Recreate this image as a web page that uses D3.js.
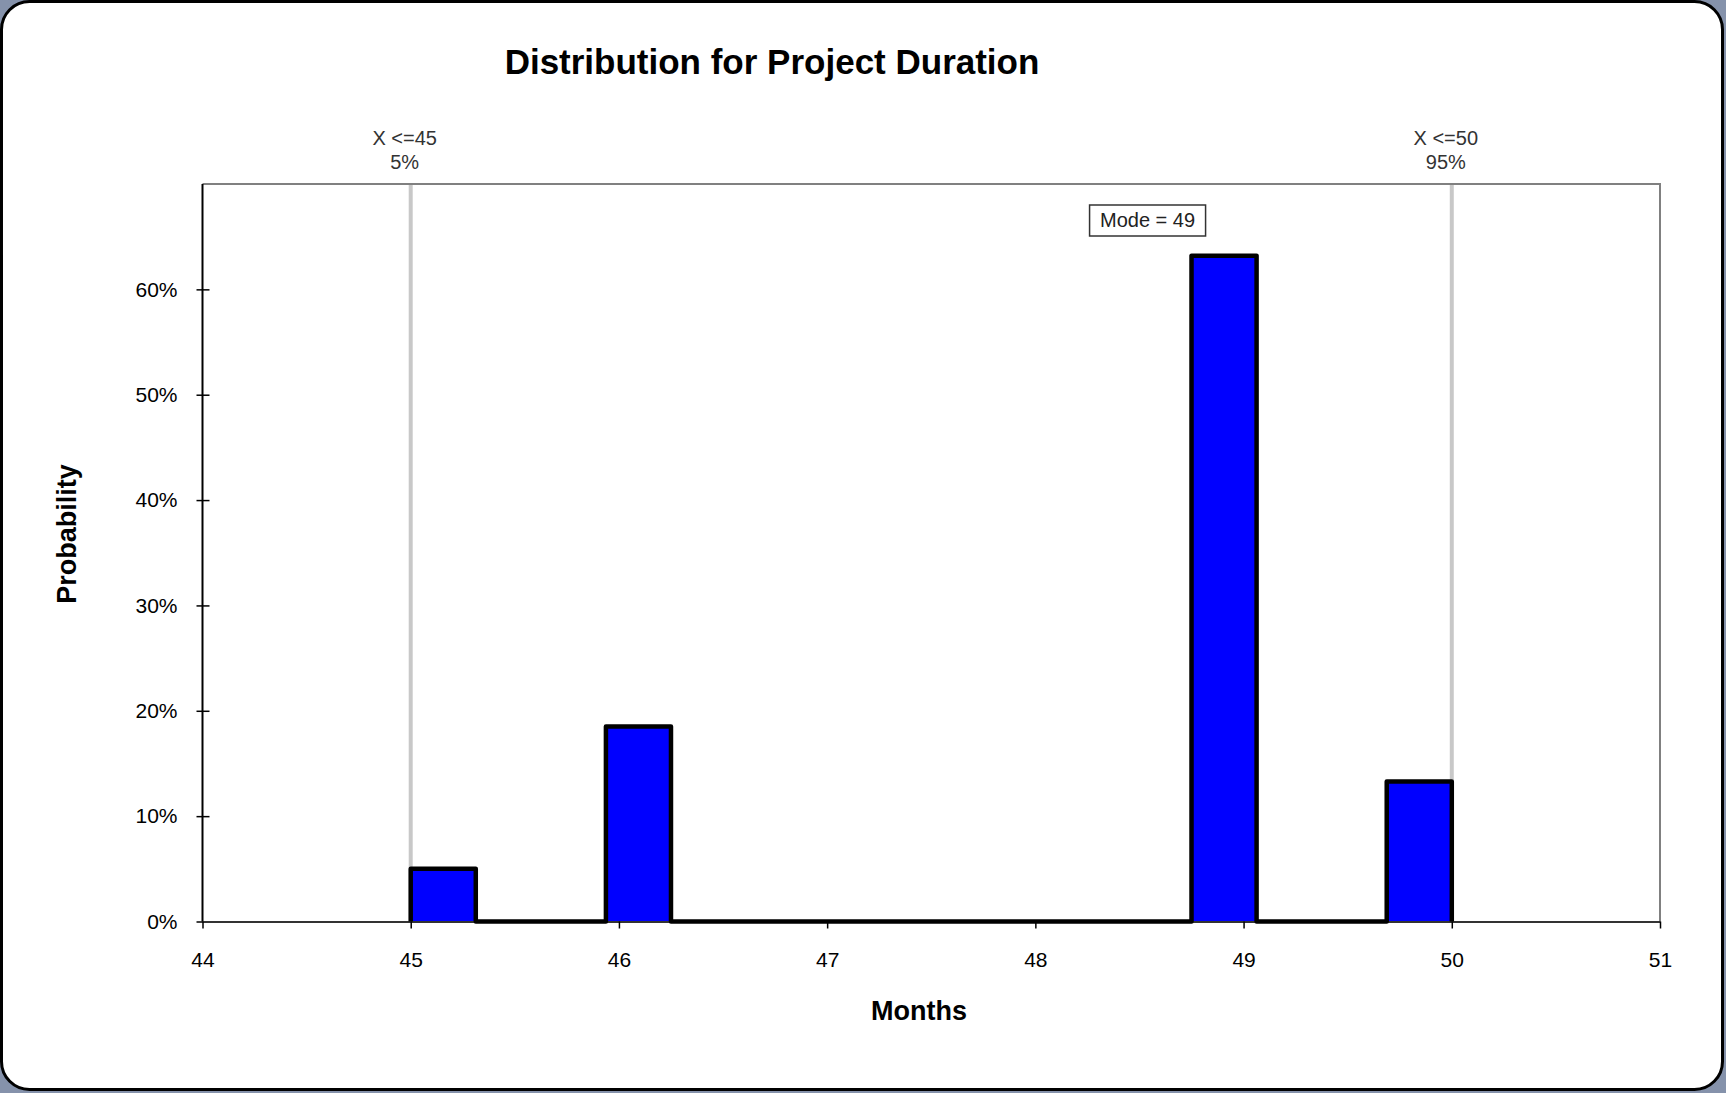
<!DOCTYPE html>
<html>
<head>
  <meta charset="utf-8">
  <title>Distribution for Project Duration</title>
  <script src="https://cdnjs.cloudflare.com/ajax/libs/d3/7.8.5/d3.min.js"></script>
  <style>
    html, body { margin: 0; padding: 0; background: #8592ab; }
    svg { display: block; font-family: "Liberation Sans", Arial, sans-serif; }
  </style>
</head>
<body>
<div id="ChartArea"></div>
<script>
// histogram bins (months) and probability per bin
const binEdges = [45, 45.3125, 45.625, 45.9375, 46.25, 46.5625, 46.875, 47.1875, 47.5,
                  47.8125, 48.125, 48.4375, 48.75, 49.0625, 49.375, 49.6875, 50];
const binProb = [0.05, 0, 0, 0.185, 0, 0, 0, 0, 0, 0, 0, 0, 0.632, 0, 0, 0.133];

// axis ticks
const xTicks = [44, 45, 46, 47, 48, 49, 50, 51];
const yTicks = [0, 0.1, 0.2, 0.3, 0.4, 0.5, 0.6];

// percentile markers and mode
const markerX = [45, 50];
const markerLabel = ["X <=45", "X <=50"];
const markerPct = ["5%", "95%"];
const modeValue = 49;

const W = 1726, H = 1093;
const margin = {top: 184, right: 66, bottom: 171.5, left: 202.5};
const width = W - margin.left - margin.right;
const height = H - margin.top - margin.bottom;

const svg = d3.select("#ChartArea").append("svg")
    .attr("width", W)
    .attr("height", H);

// outer frame
svg.append("rect")
    .attr("x", 1.5).attr("y", 1.5)
    .attr("width", W - 5).attr("height", H - 5)
    .attr("rx", 28).attr("ry", 28)
    .attr("fill", "#fff")
    .attr("stroke", "#000")
    .attr("stroke-width", 3);

// title
svg.append("text")
    .attr("x", 772).attr("y", 74)
    .attr("text-anchor", "middle")
    .attr("font-size", 35).attr("font-weight", "bold")
    .text("Distribution for Project Duration");

const g = svg.append("g")
    .attr("transform", "translate(" + margin.left + "," + margin.top + ")");

const x = d3.scaleLinear().domain([44, 51]).range([0, width]);
const y = d3.scaleLinear().domain([0, 0.7]).range([height, 0]);

// top and right border of the plot
g.append("path")
    .attr("d", "M0,0H" + width + "V" + height)
    .attr("fill", "none")
    .attr("stroke", "#808080")
    .attr("stroke-width", 2);

// percentile marker lines
g.selectAll(".marker")
  .data(markerX)
  .enter().append("line")
    .attr("class", "marker")
    .attr("x1", d => x(d)).attr("x2", d => x(d))
    .attr("y1", 1).attr("y2", height)
    .attr("stroke", "#c8c8c8")
    .attr("stroke-width", 4);

markerX.forEach(function(d, i) {
  const t = g.append("text")
      .attr("text-anchor", "middle")
      .attr("font-size", 20)
      .attr("fill", "#333");
  t.append("tspan").attr("x", x(d) - 6).attr("y", -39).text(markerLabel[i]);
  t.append("tspan").attr("x", x(d) - 6).attr("y", -15).text(markerPct[i]);
});

// bars
const bins = binProb.map((p, i) => ({lo: binEdges[i], hi: binEdges[i + 1], p: p}));

g.selectAll(".bar")
  .data(bins.filter(d => d.p > 0))
  .enter().append("rect")
    .attr("class", "bar")
    .attr("x", d => x(d.lo))
    .attr("y", d => y(d.p))
    .attr("width", d => x(d.hi) - x(d.lo))
    .attr("height", d => y(0) - y(d.p))
    .attr("fill", "#0000ff");

// y axis
const yAxis = g.append("g")
    .call(d3.axisLeft(y).tickValues(yTicks).tickFormat(d3.format(".0%"))
      .tickSize(6).tickPadding(19));
yAxis.select(".domain").remove();
yAxis.selectAll(".tick line").attr("x1", 7).attr("stroke", "#000").attr("stroke-width", 1.5);
yAxis.selectAll("text").attr("font-size", 21).attr("fill", "#000")
    .attr("font-family", "Liberation Sans, Arial, sans-serif");
g.append("line")
    .attr("x1", 0).attr("x2", 0).attr("y1", 0).attr("y2", height)
    .attr("stroke", "#000").attr("stroke-width", 2);

// x axis
const xAxis = g.append("g")
    .attr("transform", "translate(0," + height + ")")
    .call(d3.axisBottom(x).tickValues(xTicks).tickFormat(d3.format("d"))
      .tickSize(7).tickPadding(24).tickSizeOuter(0));
xAxis.select(".domain").attr("stroke", "#333").attr("stroke-width", 2);
xAxis.selectAll(".tick line").attr("stroke", "#000").attr("stroke-width", 1.5);
xAxis.selectAll("text").attr("font-size", 21).attr("fill", "#000")
    .attr("font-family", "Liberation Sans, Arial, sans-serif");

// histogram outline
const pts = [[binEdges[0], 0]];
bins.forEach(function(d) {
  pts.push([d.lo, d.p]);
  pts.push([d.hi, d.p]);
});
pts.push([binEdges[binEdges.length - 1], 0]);

g.append("path")
    .datum(pts)
    .attr("fill", "none")
    .attr("stroke", "#000")
    .attr("stroke-width", 4.5)
    .attr("stroke-linejoin", "round")
    .attr("d", d3.line().x(d => x(d[0])).y(d => y(d[1])));

// mode label
const mx = x(modeValue) - 96;
g.append("rect")
    .attr("x", mx - 58).attr("y", 21)
    .attr("width", 116).attr("height", 31)
    .attr("fill", "#fff")
    .attr("stroke", "#333")
    .attr("stroke-width", 1.5);
g.append("text")
    .attr("x", mx).attr("y", 43)
    .attr("text-anchor", "middle")
    .attr("font-size", 20)
    .attr("fill", "#222")
    .text("Mode = " + modeValue);

// axis titles
svg.append("text")
    .attr("transform", "translate(76,534) rotate(-90)")
    .attr("text-anchor", "middle")
    .attr("font-size", 27).attr("font-weight", "bold")
    .text("Probability");

svg.append("text")
    .attr("x", 919).attr("y", 1020)
    .attr("text-anchor", "middle")
    .attr("font-size", 27).attr("font-weight", "bold")
    .text("Months");
</script>
</body>
</html>
